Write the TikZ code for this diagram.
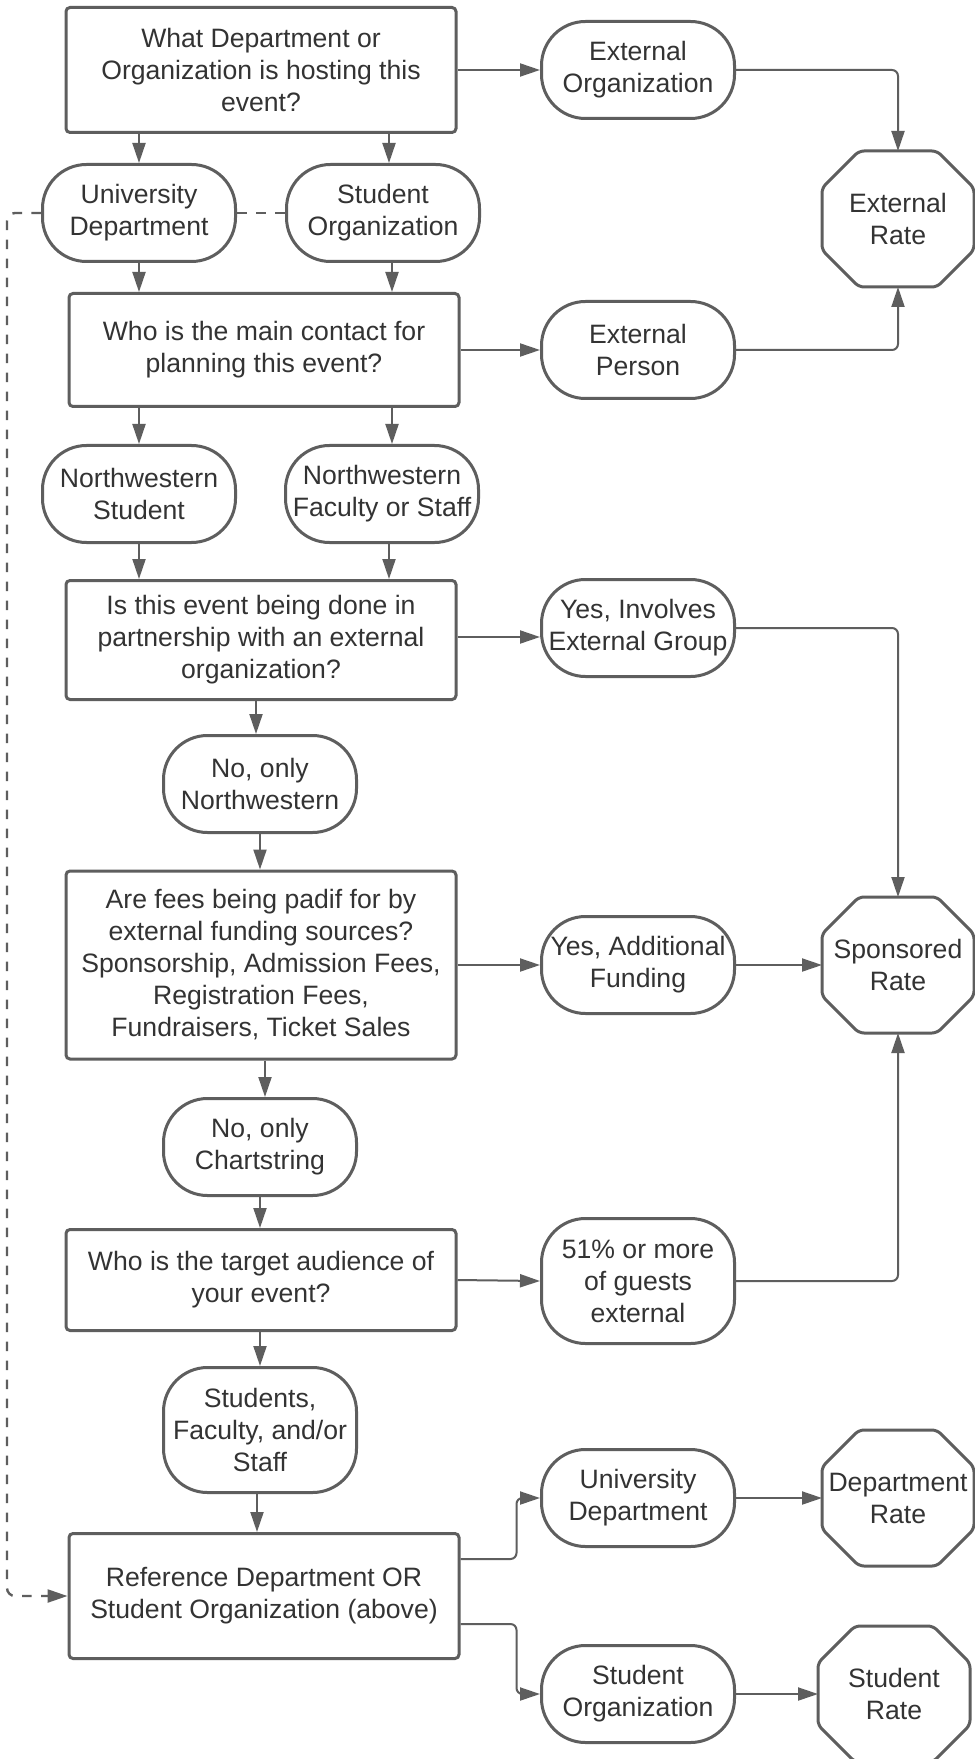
\documentclass[tikz,border=0pt]{standalone}
\usepackage{fontspec}
\setmainfont{Liberation Sans}
\usetikzlibrary{arrows.meta,calc}
\definecolor{ln}{HTML}{5E5E5E}
\definecolor{tx}{HTML}{333333}
\newcommand\octo[1]{\draw[octline] ([xshift=18.5pt]#1.north west) -- ([xshift=-18.5pt]#1.north east) -- ([yshift=-18.5pt]#1.north east) -- ([yshift=18.5pt]#1.south east) -- ([xshift=-18.5pt]#1.south east) -- ([xshift=18.5pt]#1.south west) -- ([yshift=18.5pt]#1.south west) -- ([yshift=-18.5pt]#1.north west) -- cycle;}
\begin{document}
\begin{tikzpicture}[x=0.5pt,y=-0.5pt,
  every node/.style={font=\fontsize{13.3pt}{16pt}\selectfont, text=tx, align=center, inner sep=1pt},
  qbox/.style={draw=ln, line width=1.5pt, rounded corners=2pt, rectangle, minimum width=195pt},
  pill/.style={draw=ln, line width=1.5pt, rounded corners=22pt, rectangle, minimum width=96.5pt, minimum height=48.5pt},
  octnode/.style={rectangle, outer sep=0pt, minimum width=76pt, minimum height=68pt},
  octline/.style={draw=ln, line width=1.5pt, rounded corners=2.5pt},
  arr/.style={draw=ln, line width=1pt, -{Triangle[length=10pt,width=6.5pt]}, rounded corners=3pt},
  dsh/.style={draw=ln, line width=1.2pt, dash pattern=on 4.8pt off 4.7pt, rounded corners=4pt},
]
\useasboundingbox (0,0) rectangle (974,1759);
\fill[white] (0,0) rectangle (974,1759);

\node[qbox, minimum height=62.5pt] (b1) at (261,70) {What Department or\\Organization is hosting this\\event?};
\node[pill] (extorg) at (638,70) {External\\Organization};
\node[octnode] (extrate) at (898,219) {External\\Rate};
\node[pill] (univ) at (139,213) {University\\Department};
\node[pill] (stud) at (383,213) {Student\\Organization};
\node[qbox, minimum height=56.5pt] (b2) at (264,350) {Who is the main contact for\\planning this event?};
\node[pill] (extper) at (638,350) {External\\Person};
\node[pill] (nwstu) at (139,494) {Northwestern\\Student};
\node[pill] (nwfac) at (382,494) {Northwestern\\Faculty or Staff};
\node[qbox, minimum height=59.5pt] (b3) at (261,640) {Is this event being done in\\partnership with an external\\organization?};
\node[pill] (yesext) at (638,628) {Yes, Involves\\External Group};
\node[pill] (nonw) at (260,784) {No, only\\Northwestern};
\node[qbox, minimum height=94pt] (b4) at (261,965) {Are fees being padif for by\\external funding sources?\\Sponsorship, Admission Fees,\\Registration Fees,\\Fundraisers, Ticket Sales};
\node[pill] (yesadd) at (638,965) {Yes, Additional\\Funding};
\node[octnode] (spons) at (898,965) {Sponsored\\Rate};
\node[pill] (nochart) at (260,1147) {No, only\\Chartstring};
\node[qbox, minimum height=50.5pt] (b5) at (261,1280) {Who is the target audience of\\your event?};
\node[pill, minimum height=62.5pt] (p51) at (638,1281) {51\% or more\\of guests\\external};
\node[pill, minimum height=62.5pt] (studs) at (260,1430) {Students,\\Faculty, and/or\\Staff};
\node[qbox, minimum height=62.5pt] (b6) at (264,1596) {Reference Department OR\\Student Organization (above)};
\node[pill] (univ2) at (638,1498) {University\\Department};
\node[pill] (stud2) at (638,1694) {Student\\Organization};
\node[octnode] (deptrate) at (898,1498) {Department\\Rate};
\node[octnode] (studrate) at (894,1694) {Student\\Rate};

\octo{extrate}
\octo{spons}
\octo{deptrate}
\octo{studrate}

\coordinate (ye) at ([yshift=-4.5pt]yesext.west);

\draw[arr] (b1.east) -- (extorg.west);
\draw[arr] (extorg.east) -| (extrate.north);
\draw[arr] (univ.north |- b1.south) -- (univ.north);
\draw[arr] ([xshift=3pt]stud.north |- b1.south) -- ([xshift=3pt]stud.north);
\draw[arr] (univ.south) -- (univ.south |- b2.north);
\draw[arr] ([xshift=4.5pt]stud.south) -- ([xshift=4.5pt]stud.south |- b2.north);
\draw[arr] (b2.east) -- (extper.west);
\draw[arr] (extper.east) -| (extrate.south);
\draw[arr] (nwstu.north |- b2.south) -- (nwstu.north);
\draw[arr] ([xshift=5pt]nwfac.north |- b2.south) -- ([xshift=5pt]nwfac.north);
\draw[arr] (nwstu.south) -- (nwstu.south |- b3.north);
\draw[arr] ([xshift=3.5pt]nwfac.south) -- ([xshift=3.5pt]nwfac.south |- b3.north);
\draw[arr] (b3.east |- ye) -- (ye);
\draw[arr] (yesext.east) -| (spons.north);
\draw[arr] ([xshift=-2pt]nonw.north |- b3.south) -- ([xshift=-2pt]nonw.north);
\draw[arr] (nonw.south) -- (nonw.south |- b4.north);
\draw[arr] (b4.east) -- (yesadd.west);
\draw[arr] (yesadd.east) -- (spons.west);
\draw[arr] ([xshift=2.5pt]nochart.north |- b4.south) -- ([xshift=2.5pt]nochart.north);
\draw[arr] (nochart.south) -- (nochart.south |- b5.north);
\draw[arr] (b5.east) -- (p51.west);
\draw[arr] (p51.east) -| (spons.south);
\draw[arr] (studs.north |- b5.south) -- (studs.north);
\draw[arr] ([xshift=-1.5pt]studs.south) -- ([xshift=-1.5pt]studs.south |- b6.north);
\draw[arr] ([yshift=18.5pt]b6.east) -- ++(28pt,0) |- (univ2.west);
\draw[arr] ([yshift=-14pt]b6.east) -- ++(28pt,0) |- (stud2.west);
\draw[arr] (univ2.east) -- (deptrate.west);
\draw[arr] (stud2.east) -- (studrate.west);

\draw[dsh] (univ.east) -- (stud.west);
\draw[dsh, -{Triangle[length=10pt,width=6.5pt]}] (univ.west) -- ++(-17pt,0) |- (b6.west);
\end{tikzpicture}
\end{document}
